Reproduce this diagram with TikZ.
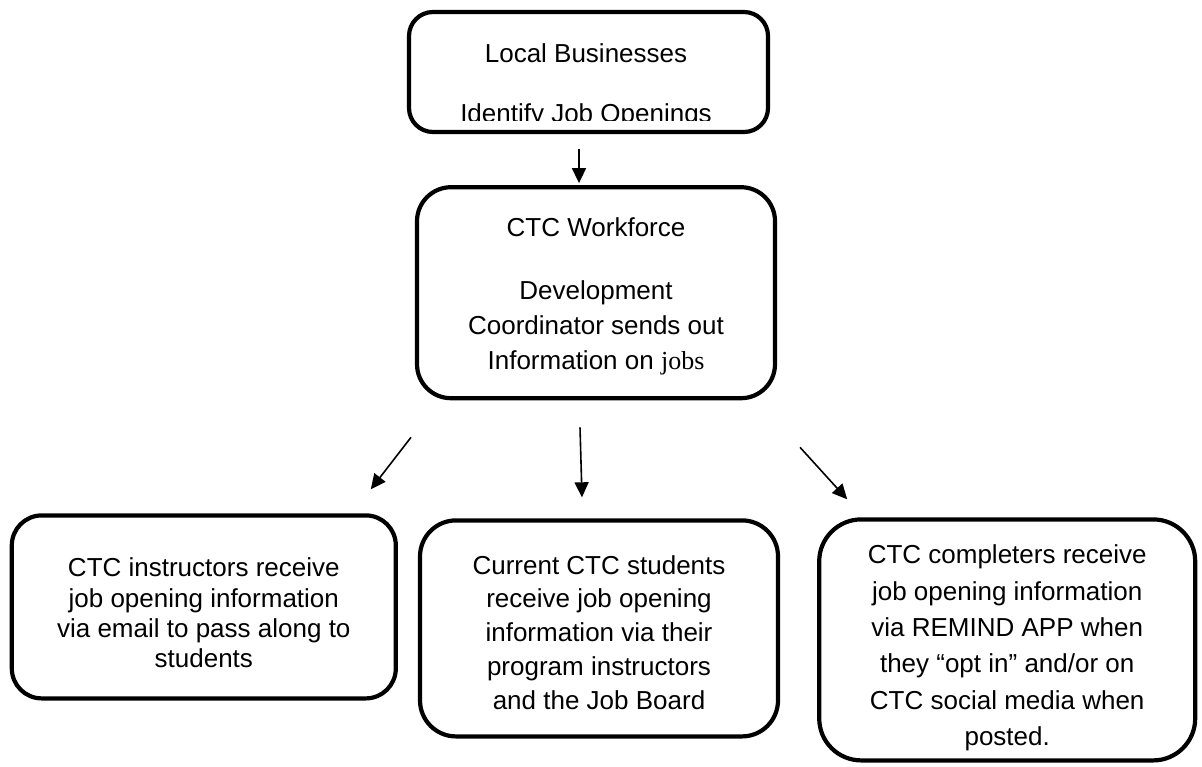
\documentclass[tikz,border=0pt]{standalone}
\usepackage{fontspec}
\setmainfont{Liberation Sans}
\newfontfamily\jobsfont{Liberation Serif}
\usepackage{tikz}
\usetikzlibrary{positioning, arrows.meta}

\begin{document}
\begin{tikzpicture}[x=0.5pt, y=-0.5pt]
        \tikzstyle{box} = [rectangle, draw, line width=2.1pt, inner sep=0pt]
        \tikzstyle{txt} = [align=center, inner sep=0pt, font=\fontsize{13}{15}\selectfont]
        \tikzstyle{arrow} = [line width=0.8pt, -{Triangle[length=7.5pt, width=7pt]}]

        \useasboundingbox (0,0) rectangle (1202,766);

        \node [box, minimum width=179.5pt, minimum height=60pt, rounded corners=12pt] (business) at (588.5,72) {};
        \begin{scope}
            \clip (400,0) rectangle (780,120.5);
            \node [txt, anchor=base] (business_name) at (586,62) {Local Businesses};
            \node [txt, anchor=base] (business_task) at (586,122) {Identify Job Openings};
        \end{scope}

        \node [box, minimum width=179pt, minimum height=105.5pt, rounded corners=17pt, below=25.5pt of business, xshift=3.75pt] (coordinator) {};
        \node [txt, font=\fontsize{13}{17.5}\selectfont, yshift=-2pt] (coordinator_text) at (coordinator) {CTC Workforce\\[14pt]Development\\Coordinator sends out\\Information on {\jobsfont jobs}};

        \node [box, minimum width=179pt, minimum height=108pt, rounded corners=18pt, below=59pt of coordinator, xshift=1.5pt] (students) {};
        \node [txt, font=\fontsize{13}{16.9}\selectfont, yshift=-2pt] (students_text) at (students) {Current CTC students\\receive job opening\\information via their\\program instructors\\and the Job Board};

        \node [box, minimum width=192pt, minimum height=91.5pt, rounded corners=15pt, left=10pt of students, yshift=10.75pt] (instructors) {};
        \node [txt, font=\fontsize{13}{15.2}\selectfont, yshift=-3pt] (instructors_text) at (instructors) {CTC instructors receive\\job opening information\\via email to pass along to\\students};

        \node [box, minimum width=188pt, minimum height=120.5pt, rounded corners=21pt, right=18.5pt of students, yshift=-5.75pt] (completers) {};
        \node [txt, font=\fontsize{13}{18.2}\selectfont, yshift=-4pt] (completers_text) at (completers) {CTC completers receive\\job opening information\\via REMIND APP when\\they “opt in” and/or on\\CTC social media when\\posted.};

        \draw [arrow] ([shift={(-9.5,15)}]business.south) -- ([shift={(-17,-2)}]coordinator.north);
        \draw [arrow] ([shift={(-185,37)}]coordinator.south) -- ([shift={(167,-24)}]instructors.north);
        \draw [arrow] ([shift={(-16,27)}]coordinator.south) -- ([shift={(-17,-21)}]students.north);
        \draw [arrow] ([shift={(204,47)}]coordinator.south) -- ([shift={(-160,-18)}]completers.north);
\end{tikzpicture}
\end{document}
